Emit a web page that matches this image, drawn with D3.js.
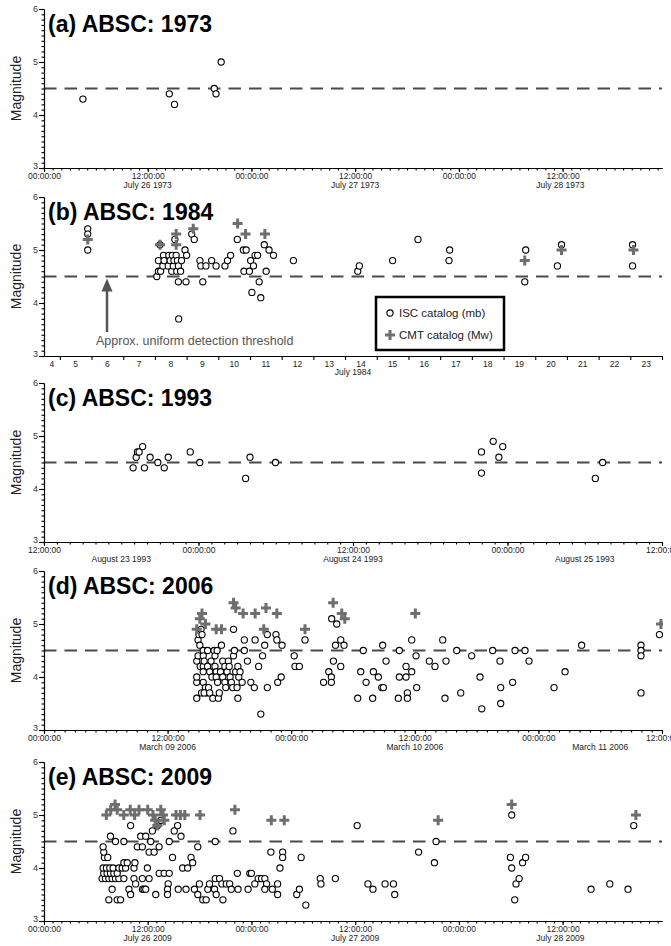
<!DOCTYPE html>
<html>
<head>
<meta charset="utf-8">
<script src="https://cdn.jsdelivr.net/npm/d3@7"></script>
<style>
body { margin: 0; background: #fff; }
text { font-family: 'Liberation Sans', Arial, Helvetica, sans-serif; }
</style>
</head>
<body>
<svg id="chart"></svg>
<script>
// ---- data ----
// [time, magnitude]; time = hours after panel start, except 1984 = day of July 1984
var titles = ['(a) ABSC: 1973', '(b) ABSC: 1984', '(c) ABSC: 1993', '(d) ABSC: 2006', '(e) ABSC: 2009'];
var starts = ['1973-07-26T00:00Z', '1984-07-04T12:00Z', '1993-08-23T12:00Z', '2006-03-09T00:00Z', '2009-07-26T00:00Z'];
var ends = ['1973-07-28T23:30Z', '1984-07-24T00:00Z', '1993-08-25T12:00Z', '2006-03-11T12:00Z', '2009-07-28T23:30Z'];
var legendLabels = ['ISC catalog (mb)', 'CMT catalog (Mw)'];
var thresholdLabel = 'Approx. uniform detection threshold';
var threshold = 4.5;

var isc1973 = [[4.5, 4.3], [14.5, 4.4], [15.1, 4.2], [19.7, 4.5], [19.9, 4.4], [20.5, 5.0]];
var cmt1973 = [];

var isc1984 = [
  [5.88, 5.4], [5.88, 5.3], [5.88, 5.0],
  [8.06, 4.5], [8.11, 4.6], [8.11, 4.8], [8.18, 4.6], [8.16, 5.1], [8.25, 4.7], [8.27, 4.9], [8.29, 4.8],
  [8.42, 4.7], [8.44, 4.9], [8.48, 4.8], [8.53, 4.6], [8.55, 4.9], [8.58, 4.7], [8.6, 4.8], [8.63, 5.2],
  [8.67, 4.9], [8.69, 4.6], [8.71, 4.8], [8.74, 4.7], [8.74, 4.4], [8.75, 3.7], [8.81, 4.6], [8.84, 4.8],
  [8.95, 5.0], [9.0, 4.9], [8.98, 4.4], [9.16, 5.3], [9.24, 5.2], [9.42, 4.8], [9.45, 4.7], [9.51, 4.4],
  [9.61, 4.7], [9.79, 4.8], [9.93, 4.7], [10.21, 4.7], [10.29, 4.8], [10.39, 4.9], [10.6, 5.2],
  [10.79, 5.0], [10.88, 5.0], [10.81, 4.6], [10.98, 4.6], [11.02, 4.8], [11.11, 4.7], [11.16, 4.9],
  [11.24, 4.9], [11.29, 4.4], [11.06, 4.2], [11.34, 4.1], [11.45, 5.1], [11.51, 4.6], [11.6, 5.0],
  [11.74, 4.9], [12.37, 4.8],
  [14.4, 4.6], [14.45, 4.7], [15.5, 4.8], [16.3, 5.2], [17.28, 4.8], [17.3, 5.0],
  [19.67, 4.4], [19.7, 5.0], [20.7, 4.7], [20.83, 5.1], [23.07, 5.1], [23.07, 4.7]
];
var cmt1984 = [[5.88, 5.2], [8.16, 5.1], [8.67, 5.3], [8.67, 5.1], [9.21, 5.4], [10.61, 5.5], [10.86, 5.3],
  [11.47, 5.3], [19.67, 4.8], [20.83, 5.0], [23.1, 5.0]];

var isc1993 = [[6.92, 4.4], [7.16, 4.6], [7.26, 4.7], [7.39, 4.7], [7.66, 4.8], [7.8, 4.4], [8.24, 4.6],
  [8.84, 4.5], [9.34, 4.4], [9.65, 4.6], [11.36, 4.7], [12.1, 4.5], [15.66, 4.2], [16.0, 4.6], [17.98, 4.5],
  [33.98, 4.7], [33.98, 4.3], [34.89, 4.9], [35.33, 4.6], [35.63, 4.8], [42.82, 4.2], [43.39, 4.5]];
var cmt1993 = [];

var isc2006 = [
  [14.83, 3.6], [14.83, 3.9], [14.83, 4.0], [14.83, 4.3], [14.96, 4.4], [14.96, 4.7], [15.04, 4.8], [15.13, 4.6],
  [15.17, 4.2], [15.25, 4.9], [15.34, 4.8], [15.46, 4.5], [15.46, 4.4], [15.46, 4.2], [15.46, 4.1], [15.46, 3.9],
  [15.55, 4.3], [15.67, 3.8], [15.8, 3.7], [15.3, 3.7], [15.55, 3.7], [15.88, 4.2], [15.88, 4.5], [15.97, 3.8],
  [16.09, 3.7], [16.09, 4.1], [16.22, 4.3], [16.3, 4.0], [16.39, 3.6], [16.51, 4.5], [16.6, 4.4], [16.6, 4.2],
  [16.72, 4.1], [16.72, 4.0], [16.81, 4.5], [16.85, 3.9], [16.93, 3.6], [17.02, 3.7], [17.14, 4.1], [17.23, 4.6],
  [17.35, 4.3], [17.35, 4.0], [17.56, 4.2], [17.56, 3.9], [17.65, 3.8], [17.77, 4.1], [17.9, 4.3], [17.98, 4.2],
  [18.07, 4.0], [18.19, 3.9], [18.32, 3.8], [18.4, 4.9], [18.4, 4.4], [18.49, 4.5], [18.61, 4.1], [18.74, 3.8],
  [18.82, 3.6], [18.82, 4.2], [18.91, 4.0], [19.03, 4.1], [19.24, 3.9], [19.45, 4.7], [19.45, 4.5], [19.75, 4.3],
  [20.08, 3.9], [20.42, 3.8], [20.5, 4.7], [20.84, 4.2], [21.05, 3.3], [21.22, 4.4], [21.43, 4.6], [21.68, 3.8],
  [21.68, 4.8], [22.52, 4.8], [22.61, 4.7], [22.69, 3.9], [23.03, 4.0], [23.11, 4.6], [24.29, 4.4], [24.37, 4.2],
  [24.79, 4.2], [25.34, 4.7],
  [27.14, 3.9], [27.65, 4.1], [27.9, 4.0], [27.9, 3.9], [28.1, 4.3], [28.3, 4.6], [28.42, 5.0], [27.93, 5.1],
  [28.81, 4.7], [28.81, 4.2], [29.13, 4.6], [31.0, 4.5], [30.75, 4.1], [31.27, 3.9], [30.46, 3.6], [31.98, 4.1],
  [32.46, 4.0], [32.79, 3.8], [32.95, 3.8], [32.88, 4.6], [33.21, 4.3], [31.91, 3.6], [34.5, 4.5], [34.5, 4.0],
  [35.15, 4.0], [35.15, 4.2], [35.7, 4.7], [35.7, 4.1], [36.12, 4.4], [35.28, 3.7], [35.28, 3.6], [34.4, 3.6],
  [36.18, 3.8], [37.41, 4.3], [37.96, 4.2], [38.71, 4.7], [39.03, 4.3], [38.93, 3.6], [40.07, 4.5], [40.46, 3.7],
  [41.52, 4.4], [42.33, 4.0], [42.5, 3.4], [43.56, 4.5], [44.27, 4.3], [44.34, 3.8], [44.34, 3.5], [45.5, 3.9],
  [45.73, 4.5], [46.7, 4.5], [47.09, 4.3], [49.52, 3.8], [50.59, 4.1], [52.2, 4.6], [57.96, 4.6], [57.96, 4.5],
  [57.96, 4.4], [57.96, 3.7], [59.75, 4.8]
];
var cmt2006 = [[14.83, 4.9], [15.13, 5.1], [15.34, 5.2], [15.67, 5.0], [16.72, 4.9], [17.23, 4.9], [18.4, 5.4],
  [18.61, 5.3], [19.33, 5.2], [20.5, 5.2], [21.55, 5.3], [21.34, 4.9], [22.61, 5.2], [25.34, 4.9], [28.07, 5.4],
  [28.91, 5.2], [29.2, 5.1], [36.05, 5.2], [59.9, 5.0]];

var isc2009 = [
  [6.72, 3.8], [7.11, 3.8], [7.5, 3.8], [7.88, 3.8], [8.27, 3.8], [8.66, 3.8], [9.24, 3.8],
  [6.91, 3.9], [7.3, 3.9], [7.69, 3.9], [8.08, 3.9], [8.47, 3.9],
  [6.84, 4.0], [7.22, 4.0], [7.61, 4.0], [8.0, 4.0], [8.66, 4.0], [9.05, 4.0], [9.44, 4.0], [10.41, 4.0],
  [9.24, 4.1], [9.63, 4.1], [10.52, 4.1], [6.99, 4.2], [7.38, 4.2], [6.91, 4.3], [6.84, 4.4],
  [7.69, 4.6], [8.27, 4.5], [9.24, 4.5], [10.02, 4.8], [10.8, 4.4], [11.19, 4.6], [11.38, 4.4], [11.77, 4.6],
  [12.16, 4.3], [12.35, 4.5], [12.54, 4.7], [12.74, 4.3], [13.13, 4.8], [13.32, 4.4], [13.52, 4.9], [14.49, 4.5],
  [14.87, 4.2], [15.07, 4.7], [15.46, 4.8], [15.85, 4.6], [16.04, 4.0], [16.62, 4.0], [17.01, 4.2], [17.2, 4.1],
  [17.79, 4.4], [19.81, 4.5], [21.86, 4.7],
  [7.88, 3.6], [9.83, 3.6], [10.02, 3.5], [7.5, 3.4], [8.47, 3.4], [8.86, 3.4], [10.41, 3.8], [10.6, 3.7],
  [11.38, 3.8], [11.4, 3.6], [11.57, 3.6], [11.77, 3.6], [12.16, 3.8], [11.96, 4.0], [12.93, 3.5], [13.32, 3.9],
  [13.9, 3.9], [14.49, 3.9], [14.37, 3.7], [14.29, 3.6], [14.29, 3.5], [15.53, 3.6], [16.43, 3.6], [17.4, 3.6],
  [17.79, 3.5], [17.98, 3.7], [18.37, 3.4], [18.76, 3.4], [18.95, 3.6], [19.15, 3.7], [19.81, 3.8], [19.73, 3.6],
  [19.92, 3.5], [20.31, 3.8], [20.58, 3.7], [20.7, 3.4], [21.09, 3.7], [21.48, 3.7], [21.67, 3.6], [22.37, 3.9],
  [22.45, 3.6], [23.81, 3.9], [23.61, 3.6], [24.39, 3.7], [25.0, 3.8],
  [24.0, 3.9], [24.78, 3.8], [25.17, 3.8], [25.55, 3.8], [25.75, 3.7], [25.55, 3.6], [26.25, 4.3], [26.41, 3.6],
  [27.03, 3.7], [27.03, 3.5], [27.3, 4.0], [27.61, 4.3], [27.61, 4.2], [29.24, 3.5], [29.55, 3.6], [29.75, 4.2],
  [30.29, 3.3], [31.96, 3.8], [32.04, 3.7], [33.71, 3.8], [36.23, 4.8], [37.48, 3.7], [38.06, 3.6], [39.46, 3.7],
  [40.43, 3.7], [40.58, 3.5], [43.34, 4.3], [45.17, 4.1], [45.36, 4.5],
  [53.96, 4.2], [54.11, 5.0], [54.11, 4.0], [54.46, 3.4], [54.61, 3.7], [54.97, 3.8], [55.37, 4.1], [55.72, 4.2],
  [63.29, 3.6], [65.46, 3.7], [67.57, 3.6], [68.23, 4.8]
];
var cmt2009 = [[7.21, 5.0], [7.72, 5.1], [8.22, 5.2], [8.47, 5.1], [9.23, 5.0], [9.98, 5.1], [10.49, 5.0],
  [10.99, 5.1], [12.0, 5.1], [12.61, 5.0], [12.86, 4.9], [13.11, 4.8], [13.51, 5.1], [13.77, 5.0], [13.92, 4.9],
  [15.28, 5.0], [15.78, 5.0], [16.29, 5.0], [18.05, 5.0], [22.09, 5.1], [26.3, 4.9], [27.8, 4.9], [45.6, 4.9],
  [54.11, 5.2], [68.48, 5.0]];

var iscData = [isc1973, isc1984, isc1993, isc2006, isc2009];
var cmtData = [cmt1973, cmt1984, cmt1993, cmt2006, cmt2009];

// ---- layout ----
var width = 671, height = 946,
    x0 = 44, x1 = 662, ph = 159,
    tops = [9, 197, 383, 571, 762];

var HOUR = 3600e3, DAY = 864e5;
var plusPath = 'M-5,0H5M0,-5V5';

var svg = d3.select('#chart').attr('width', width).attr('height', height);

function toDate(i, t) {
    if (i === 1) return new Date(Date.UTC(1984, 6, 1) + (t - 1) * DAY);
    return new Date(new Date(starts[i]).getTime() + t * HOUR);
}

titles.forEach(function (title, i) {
    var top = tops[i], base = top + ph;
    var t0 = new Date(starts[i]), t1 = new Date(ends[i]);
    var x = d3.scaleUtc().domain([t0, t1]).range([x0, x1]);
    var y = d3.scaleLinear().domain([3, 6]).range([base, top]);
    var g = svg.append('g');

    g.append('clipPath').attr('id', 'clip' + i)
        .append('rect').attr('x', x0).attr('y', top - 20).attr('width', x1 - x0 + 1).attr('height', ph + 20);

    // threshold line
    g.append('line')
        .attr('x1', x0).attr('x2', x1)
        .attr('y1', y(threshold)).attr('y2', y(threshold))
        .style('stroke', '#4a4a4a').style('stroke-width', 2)
        .style('stroke-dasharray', '12.5,8');

    // y axis
    g.append('g').attr('transform', 'translate(' + x0 + ',0)')
        .call(d3.axisLeft(y).tickValues(d3.range(30, 61).map(function (v) { return v / 10; }))
            .tickSize(2.5).tickSizeOuter(0).tickFormat(''));
    g.append('g').attr('class', 'ylab').attr('transform', 'translate(' + x0 + ',0)')
        .call(d3.axisLeft(y).tickValues([3, 4, 5, 6]).tickSize(5).tickSizeOuter(0).tickPadding(1)
            .tickFormat(d3.format('d')));

    // x axis
    var xa = g.append('g').attr('transform', 'translate(0,' + base + ')');
    if (i === 1) {
        xa.call(d3.axisBottom(x).ticks(d3.utcDay.every(1)).tickSize(4).tickSizeOuter(0).tickFormat(''));
    } else {
        xa.call(d3.axisBottom(x).ticks(d3.utcHour.every(1)).tickSize(2.5).tickSizeOuter(0).tickFormat(''));
        g.append('g').attr('class', 'xlab').attr('transform', 'translate(0,' + base + ')')
            .call(d3.axisBottom(x).ticks(d3.utcHour.every(12)).tickSize(4).tickSizeOuter(0).tickPadding(0.5)
                .tickFormat(d3.utcFormat('%H:%M:%S')));
    }

    // day labels, centred on the visible part of each day
    var days = d3.utcDay.range(d3.utcDay.floor(t0), t1);
    var dayFmt = i === 1 ? d3.utcFormat('%-d') : d3.utcFormat('%B %d %Y');
    g.selectAll('.daylab').data(days).enter().append('text')
        .attr('x', function (d) {
            var a = d < t0 ? t0 : d, b = d3.utcDay.offset(d, 1);
            if (b > t1) b = t1;
            return (x(a) + x(b)) / 2;
        })
        .attr('y', base + (i === 1 ? 10.5 : 20))
        .attr('text-anchor', 'middle')
        .style('font-size', '8.5px').style('fill', '#222')
        .text(dayFmt);
    if (i === 1) {
        g.append('text').attr('x', (x0 + x1) / 2).attr('y', base + 19)
            .attr('text-anchor', 'middle').style('font-size', '8.5px').style('fill', '#222')
            .text(d3.utcFormat('%B %Y')(t0));
    }

    g.selectAll('.domain, .tick line').style('stroke', '#000').style('stroke-width', 1.1);
    g.selectAll('.ylab text').style('font-size', '9px').style('fill', '#333').style('font-family', null)
        .attr('dy', function (d) { return d === 3 ? '0.1em' : '0.32em'; });
    g.selectAll('.xlab text').style('font-size', '8.5px').style('fill', '#222').style('font-family', null);

    // axis title and panel title
    g.append('text')
        .attr('transform', 'translate(21,' + (top + ph / 2) + ') rotate(-90)')
        .attr('text-anchor', 'middle')
        .style('font-size', '14px').style('fill', '#222')
        .text('Magnitude');
    g.append('text').attr('x', 48).attr('y', top + 23)
        .style('font-size', '23px').style('font-weight', 'bold').style('fill', '#000')
        .text(title);

    // marks
    var marks = g.append('g').attr('clip-path', 'url(#clip' + i + ')');
    marks.selectAll('circle').data(iscData[i]).enter().append('circle')
        .attr('cx', function (d) { return x(toDate(i, d[0])); })
        .attr('cy', function (d) { return y(d[1]); })
        .attr('r', 3.1)
        .style('fill', '#fff').style('stroke', '#000').style('stroke-width', 1.1);
    marks.selectAll('path').data(cmtData[i]).enter().append('path')
        .attr('transform', function (d) {
            return 'translate(' + x(toDate(i, d[0])) + ',' + y(d[1]) + ')';
        })
        .attr('d', plusPath)
        .style('stroke', '#6e6e6e').style('stroke-width', 3).style('fill', 'none');

    if (i === 1) {
        // threshold annotation
        var ax = 107;
        g.append('line').attr('x1', ax).attr('x2', ax).attr('y1', 332).attr('y2', y(threshold) + 12)
            .style('stroke', '#555').style('stroke-width', 2.5);
        g.append('path').attr('d', 'M' + ax + ',' + (y(threshold) + 2) + 'l-5.5,13h11z').style('fill', '#555');
        g.append('text').attr('x', 96).attr('y', 345)
            .style('font-size', '12.5px').style('fill', '#555').text(thresholdLabel);

        // legend
        var lg = g.append('g');
        lg.append('rect').attr('x', 376).attr('y', 297).attr('width', 128).attr('height', 53)
            .style('fill', '#fff').style('stroke', '#000').style('stroke-width', 2.5);
        lg.append('circle').attr('cx', 390).attr('cy', 313).attr('r', 3.1)
            .style('fill', '#fff').style('stroke', '#000').style('stroke-width', 1.1);
        lg.append('path').attr('transform', 'translate(390,335)').attr('d', plusPath)
            .style('stroke', '#6e6e6e').style('stroke-width', 3);
        lg.selectAll('.lt').data(legendLabels).enter().append('text')
            .attr('x', 399).attr('y', function (d, k) { return 317 + k * 22; })
            .style('font-size', '11.5px').style('fill', '#222')
            .text(function (d) { return d; });
    }
});
</script>
</body>
</html>
